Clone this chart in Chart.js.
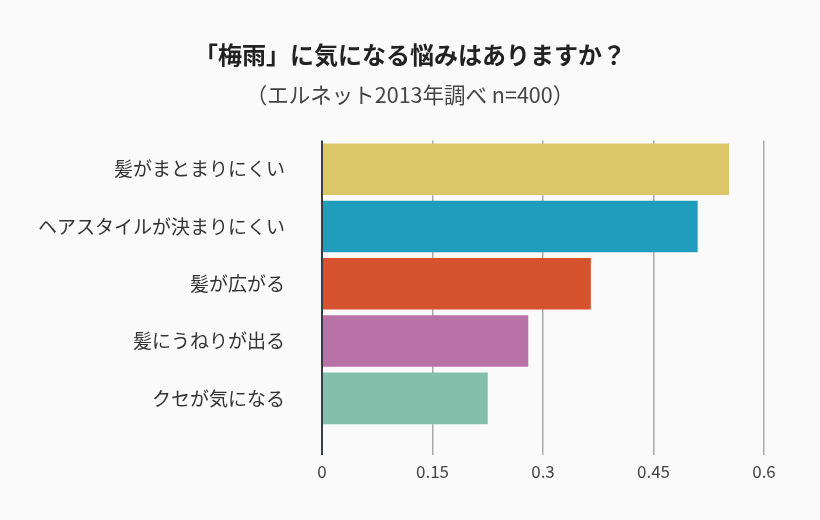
<!DOCTYPE html>
<html>
<head>
<meta charset="utf-8">
<script src="https://cdn.jsdelivr.net/npm/chart.js@4/dist/chart.umd.min.js"></script>
<style>
  html, body { margin: 0; padding: 0; background: #fafafa; }
  #wrap { width: 820px; height: 520px; }
</style>
</head>
<body>
<div id="wrap"><canvas id="rainChart" width="820" height="520"></canvas></div>
<script>
// 梅雨の悩み（エルネット2013年調べ n=400）
const categories = ['髪がまとまりにくい', 'ヘアスタイルが決まりにくい', '髪が広がる', '髪にうねりが出る', 'クセが気になる'];
const shares = [0.5525, 0.51, 0.365, 0.28, 0.225];
const barColors = ['#dcc66a', '#209dbd', '#d5522c', '#b972a8', '#83bfaa'];
const xTicks = [0, 0.15, 0.3, 0.45, 0.6];

const FONT = '"Noto Sans CJK JP", "Noto Sans", sans-serif';

const ctx = document.getElementById('rainChart').getContext('2d');
new Chart(ctx, {
  type: 'bar',
  data: {
    labels: categories,
    datasets: [{
      data: shares,
      backgroundColor: barColors,
      borderWidth: 0,
      barPercentage: 0.9,
      categoryPercentage: 1
    }]
  },
  options: {
    indexAxis: 'y',
    responsive: false,
    animation: false,
    // 左右同じ余白にしてタイトルをキャンバス中央に
    layout: { padding: { left: 28, right: 28, top: 0, bottom: 0 } },
    plugins: {
      legend: { display: false },
      tooltip: { enabled: false },
      title: {
        display: true,
        text: '「梅雨」に気になる悩みはありますか？',
        color: '#222',
        font: { family: FONT, size: 24, weight: '600' },
        padding: { top: 40, bottom: 13 }
      },
      subtitle: {
        display: true,
        text: '（エルネット2013年調べ n=400）',
        color: '#444',
        font: { family: FONT, size: 21.5 },
        padding: { top: 0, bottom: 33 }
      }
    },
    scales: {
      x: {
        min: 0,
        max: 0.6,
        afterBuildTicks(scale) {
          scale.ticks = xTicks.map(v => ({ value: v }));
        },
        afterFit(scale) {
          scale.height = 93;
        },
        border: { display: false },
        grid: {
          color: c => (c.tick && c.tick.value === 0) ? '#3a3f44' : '#aaaaaa',
          lineWidth: c => (c.tick && c.tick.value === 0) ? 2 : 1.5,
          tickLength: 28
        },
        ticks: {
          color: '#444',
          padding: 6,
          font: { family: FONT, size: 17 },
          callback: v => String(v)
        }
      },
      y: {
        afterFit(scale) {
          scale.width = 294;
        },
        border: { display: false },
        grid: { display: false, drawTicks: false },
        ticks: {
          color: '#333',
          padding: 37,
          font: { family: FONT, size: 19 }
        }
      },
      // 右側の空白用（何も描かない）
      yRight: {
        type: 'category',
        position: 'right',
        display: true,
        afterFit(scale) {
          scale.width = 28;
        },
        border: { display: false },
        grid: { display: false, drawTicks: false },
        ticks: { display: false }
      }
    }
  }
});
</script>
</body>
</html>
